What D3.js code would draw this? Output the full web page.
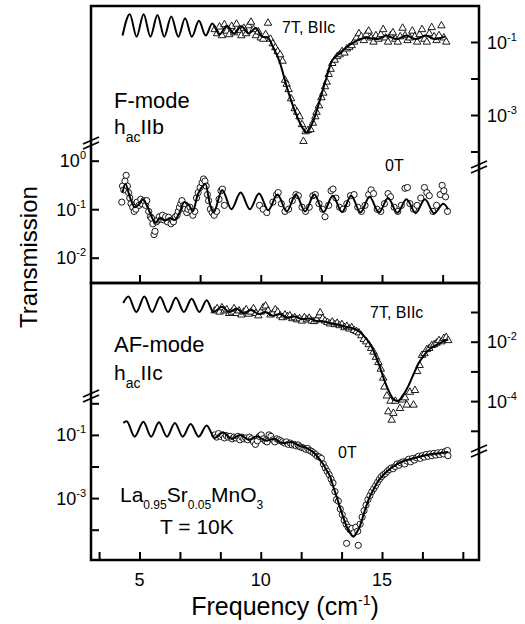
<!DOCTYPE html>
<html>
<head>
<meta charset="UTF-8">
<script src="https://cdn.jsdelivr.net/npm/d3@7"></script>
<style>
  body { margin: 0; background: #fff; }
  svg { font-family: "Liberation Sans", Arial, Helvetica, sans-serif; }
  .fit { fill: none; stroke: #000; stroke-width: 2; }
  .pt { fill: #fff; stroke: #000; stroke-width: 0.9; }
  .frame { fill: none; stroke: #000; stroke-width: 2.5; }
  .tick line { stroke: #000; stroke-width: 2; }
</style>
</head>
<body>
<div id="chart"></div>
<script>
// F-mode (h_ac || b), 7 T : measured points and fit
const fMode7T = [[8.1,0.22],[8.2,0.17],[8.3,0.26],[8.4,0.15],[8.5,0.3],[8.6,0.2],[8.7,0.16],[8.8,0.27],[8.9,0.18],[9.0,0.31],[9.1,0.21],[9.2,0.15],[9.3,0.24],[9.4,0.17],[9.5,0.28],[9.6,0.35],[9.7,0.22],[9.8,0.15],[9.9,0.19],[10.0,0.13],[10.1,0.12],[10.2,0.16],[10.3,0.33],[10.4,0.12],[10.5,0.09],[10.6,0.07],[10.7,0.055],[10.8,0.045],[10.9,0.03],[11.0,0.009],[11.07,0.007],[11.15,0.005],[11.25,0.0028],[11.4,0.0015],[11.5,0.0012],[11.6,9e-4],[11.7,5.5e-4],[11.76,1.9e-4],[11.85,3.5e-4],[11.95,3.8e-4],[12.05,4e-4],[12.15,6e-4],[12.25,9e-4],[12.3,1.2e-3],[12.4,1.8e-3],[12.5,3e-3],[12.58,4e-3],[12.65,6e-3],[12.72,8e-3],[12.8,0.013],[12.88,0.018],[12.95,0.026],[13.05,0.032],[13.15,0.04],[13.25,0.045],[13.35,0.055],[13.45,0.05],[13.55,0.065],[13.65,0.072],[13.75,0.08],[13.85,0.1],[13.95,0.13],[14.05,0.17],[14.15,0.14],[14.25,0.11],[14.35,0.16],[14.45,0.2],[14.55,0.13],[14.65,0.1],[14.75,0.15],[14.85,0.12],[14.95,0.16],[15.05,0.22],[15.15,0.13],[15.25,0.1],[15.35,0.15],[15.45,0.18],[15.55,0.12],[15.65,0.1],[15.75,0.14],[15.85,0.24],[15.95,0.15],[16.05,0.11],[16.15,0.13],[16.25,0.2],[16.35,0.14],[16.45,0.1],[16.55,0.16],[16.65,0.22],[16.75,0.12],[16.85,0.1],[16.95,0.17],[17.05,0.25],[17.15,0.14],[17.25,0.11],[17.35,0.15],[17.45,0.28],[17.55,0.13],[17.65,0.1]];
const fMode7TFit = [[4.3,0.15],[4.6,0.58],[4.88,0.14],[5.17,0.58],[5.45,0.14],[5.74,0.55],[6.02,0.14],[6.31,0.5],[6.6,0.14],[6.88,0.45],[7.16,0.14],[7.45,0.38],[7.73,0.15],[8.0,0.32],[8.3,0.16],[8.6,0.28],[8.9,0.17],[9.2,0.27],[9.5,0.17],[9.8,0.24],[10.05,0.14],[10.3,0.13],[10.5,0.075],[10.8,0.026],[11.07,0.006],[11.34,0.0017],[11.62,6e-4],[11.88,3.3e-4],[12.17,7e-4],[12.44,2.6e-3],[12.72,0.011],[12.92,0.029],[13.27,0.05],[13.8,0.094],[14.37,0.13],[14.8,0.12],[15.2,0.15],[15.6,0.12],[16.0,0.15],[16.4,0.12],[16.8,0.15],[17.2,0.12],[17.6,0.14]];

// F-mode, 0 T
const fMode0T = [[4.27,0.14],[4.3,0.3],[4.35,0.25],[4.4,0.38],[4.45,0.5],[4.5,0.3],[4.55,0.22],[4.6,0.17],[4.65,0.13],[4.72,0.11],[4.78,0.09],[4.85,0.1],[4.9,0.14],[4.98,0.12],[5.05,0.16],[5.1,0.13],[5.18,0.15],[5.25,0.12],[5.3,0.15],[5.38,0.09],[5.45,0.07],[5.5,0.065],[5.55,0.05],[5.6,0.03],[5.64,0.035],[5.7,0.055],[5.75,0.06],[5.82,0.07],[5.9,0.062],[5.95,0.075],[6.0,0.06],[6.08,0.07],[6.15,0.055],[6.2,0.068],[6.3,0.05],[6.35,0.06],[6.4,0.055],[6.48,0.07],[6.55,0.075],[6.6,0.09],[6.65,0.11],[6.7,0.13],[6.75,0.15],[6.82,0.12],[6.88,0.1],[6.95,0.085],[7.0,0.1],[7.08,0.11],[7.15,0.09],[7.2,0.075],[7.28,0.09],[7.35,0.17],[7.42,0.22],[7.5,0.28],[7.58,0.35],[7.64,0.42],[7.7,0.38],[7.75,0.3],[7.8,0.2],[7.85,0.15],[7.92,0.1],[8.0,0.085],[8.08,0.075],[8.18,0.09],[8.28,0.16],[8.36,0.24],[8.42,0.26],[8.5,0.12],
  [9.95,0.12],[10.1,0.1],[10.25,0.085],[10.5,0.14],[10.65,0.2],[10.72,0.22],[10.85,0.13],[11.0,0.09],[11.15,0.1],[11.3,0.15],[11.45,0.2],[11.55,0.19],[11.7,0.11],[11.85,0.09],[12.0,0.11],[12.15,0.19],[12.25,0.2],[12.4,0.13],[12.55,0.1],[12.65,0.07],[12.8,0.12],[12.9,0.24],[12.98,0.26],[13.1,0.17],[13.25,0.11],[13.4,0.1],[13.55,0.13],[13.7,0.19],[13.85,0.2],[14.0,0.11],[14.15,0.09],[14.3,0.12],[14.45,0.2],[14.55,0.25],[14.65,0.21],[14.8,0.1],[14.95,0.09],[15.1,0.13],[15.25,0.21],[15.35,0.18],[15.5,0.11],[15.65,0.09],[15.8,0.12],[15.95,0.27],[16.05,0.28],[16.15,0.13],[16.3,0.1],[16.45,0.12],[16.6,0.17],[16.75,0.28],[16.85,0.22],[16.95,0.19],[17.1,0.09],[17.25,0.12],[17.4,0.2],[17.48,0.31],[17.55,0.24],[17.62,0.18],[17.7,0.09]];
const fMode0TFit = [[4.3,0.22],[4.42,0.33],[4.6,0.18],[4.8,0.11],[5.0,0.13],[5.15,0.16],[5.3,0.12],[5.5,0.07],[5.65,0.052],[5.85,0.065],[6.05,0.058],[6.25,0.065],[6.45,0.06],[6.65,0.085],[6.85,0.14],[7.05,0.12],[7.2,0.09],[7.4,0.2],[7.6,0.3],[7.72,0.33],[7.9,0.13],[8.05,0.085],[8.41,0.25],[8.79,0.1],[9.17,0.22],[9.55,0.1],[9.93,0.21],[10.31,0.095],[10.69,0.2],[11.07,0.09],[11.45,0.2],[11.83,0.09],[12.21,0.2],[12.59,0.088],[12.97,0.19],[13.35,0.088],[13.73,0.19],[14.11,0.086],[14.49,0.18],[14.87,0.085],[15.25,0.17],[15.63,0.084],[16.01,0.16],[16.39,0.083],[16.77,0.16],[17.15,0.082],[17.53,0.13],[17.73,0.1]];

// AF-mode (h_ac || c), 7 T
const afMode7T = [[8.1,0.11],[8.2,0.13],[8.3,0.1],[8.4,0.14],[8.5,0.11],[8.6,0.12],[8.7,0.09],[8.8,0.1],[8.9,0.13],[9.0,0.09],[9.1,0.11],[9.2,0.08],[9.3,0.1],[9.4,0.12],[9.5,0.085],[9.6,0.1],[9.7,0.13],[9.8,0.09],[9.9,0.075],[10.0,0.1],[10.1,0.14],[10.2,0.16],[10.3,0.11],[10.4,0.08],[10.5,0.09],[10.6,0.12],[10.7,0.1],[10.8,0.075],[10.9,0.065],[11.0,0.08],[11.1,0.07],[11.2,0.075],[11.3,0.06],[11.4,0.065],[11.5,0.055],[11.6,0.06],[11.7,0.05],[11.8,0.065],[11.9,0.055],[12.0,0.062],[12.1,0.05],[12.2,0.048],[12.3,0.055],[12.4,0.075],[12.45,0.095],[12.55,0.06],[12.65,0.05],[12.75,0.045],[12.85,0.04],[12.95,0.046],[13.05,0.038],[13.15,0.042],[13.25,0.035],[13.35,0.038],[13.45,0.03],[13.55,0.033],[13.65,0.027],[13.75,0.03],[13.85,0.024],[13.95,0.022],[14.05,0.02],[14.15,0.016],[14.25,0.012],[14.35,0.01],[14.45,0.008],[14.55,0.006],[14.65,0.0045],[14.75,0.003],[14.85,0.002],[14.95,0.0012],[15.05,6e-4],[15.1,3e-4],[15.2,1.5e-4],[15.26,4.4e-5],[15.35,1e-4],[15.4,2.3e-5],[15.47,3.9e-5],[15.55,1e-4],[15.74,5.7e-5],[15.85,1.1e-4],[15.95,1.3e-4],[16.02,7.4e-5],[16.15,2e-4],[16.3,7.4e-5],[16.36,2.3e-4],[16.45,1e-3],[16.55,1.6e-3],[16.65,3.5e-3],[16.75,4e-3],[16.85,5.5e-3],[16.95,6e-3],[17.05,7.5e-3],[17.15,8e-3],[17.25,9e-3],[17.35,0.011],[17.45,0.01],[17.55,0.013],[17.65,0.014],[17.73,0.011]];
const afMode7TFit = [[4.33,0.2],[4.54,0.33],[4.87,0.1],[5.2,0.33],[5.52,0.1],[5.85,0.32],[6.18,0.1],[6.5,0.3],[6.83,0.1],[7.15,0.28],[7.47,0.1],[7.77,0.25],[8.05,0.1],[8.4,0.15],[8.7,0.1],[9.0,0.13],[9.3,0.09],[9.6,0.12],[9.9,0.085],[10.2,0.1],[10.5,0.075],[10.8,0.085],[11.1,0.065],[11.4,0.07],[11.7,0.058],[12.0,0.06],[12.3,0.05],[12.6,0.048],[12.9,0.042],[13.2,0.038],[13.5,0.032],[13.8,0.028],[14.1,0.021],[14.3,0.014],[14.5,0.0085],[14.7,0.004],[14.9,0.0015],[15.1,5e-4],[15.3,2e-4],[15.5,1.1e-4],[15.65,1e-4],[15.85,1.5e-4],[16.05,2.8e-4],[16.3,8e-4],[16.5,1.8e-3],[16.7,3.2e-3],[16.9,5e-3],[17.15,7e-3],[17.45,9.5e-3],[17.73,0.012]];

// AF-mode, 0 T
const afMode0T = [[8.1,0.1],[8.18,0.085],[8.26,0.11],[8.34,0.09],[8.42,0.1],[8.5,0.08],[8.58,0.095],[8.66,0.085],[8.74,0.09],[8.82,0.075],[8.9,0.085],[8.98,0.08],[9.06,0.09],[9.14,0.07],[9.22,0.085],[9.3,0.075],[9.38,0.08],[9.46,0.07],[9.54,0.085],[9.62,0.075],[9.7,0.06],[9.78,0.05],[9.86,0.065],[9.94,0.09],[10.02,0.1],[10.1,0.075],[10.18,0.065],[10.26,0.06],[10.34,0.1],[10.42,0.09],[10.5,0.07],[10.58,0.06],[10.66,0.075],[10.74,0.07],[10.82,0.065],[10.9,0.06],[10.98,0.055],[11.06,0.06],[11.14,0.05],[11.22,0.055],[11.3,0.048],[11.38,0.05],[11.46,0.045],[11.54,0.048],[11.62,0.042],[11.7,0.04],[11.78,0.038],[11.86,0.035],[11.94,0.037],[12.02,0.032],[12.1,0.03],[12.18,0.027],[12.26,0.024],[12.34,0.021],[12.42,0.02],[12.5,0.018],[12.58,0.012],[12.66,0.009],[12.74,0.007],[12.82,0.0055],[12.9,0.004],[12.98,0.003],[13.06,0.0016],[13.12,9e-4],[13.2,8e-4],[13.28,4.5e-4],[13.36,3e-4],[13.44,2e-4],[13.52,1.5e-4],[13.54,3.7e-5],[13.6,1.2e-4],[13.68,1e-4],[13.76,1.1e-4],[13.84,8e-5],[13.92,1.2e-4],[14.0,9e-5],[14.02,3.2e-5],[14.1,1.5e-4],[14.18,2.5e-4],[14.26,4e-4],[14.34,6e-4],[14.42,9e-4],[14.5,1.2e-3],[14.58,1.6e-3],[14.66,2e-3],[14.74,2.5e-3],[14.82,3.2e-3],[14.9,4e-3],[14.98,4.8e-3],[15.06,5.5e-3],[15.14,6e-3],[15.22,7e-3],[15.3,8e-3],[15.38,9e-3],[15.46,0.0085],[15.54,0.01],[15.62,0.012],[15.7,0.011],[15.78,0.013],[15.86,0.014],[15.94,0.012],[16.02,0.015],[16.1,0.017],[16.18,0.014],[16.26,0.018],[16.34,0.016],[16.42,0.019],[16.5,0.021],[16.58,0.018],[16.66,0.022],[16.74,0.02],[16.82,0.024],[16.9,0.021],[16.98,0.025],[17.06,0.022],[17.14,0.026],[17.22,0.023],[17.3,0.027],[17.38,0.024],[17.46,0.028],[17.54,0.025],[17.62,0.03],[17.7,0.032],[17.72,0.022]];
const afMode0TFit = [[4.33,0.24],[4.47,0.27],[4.8,0.088],[5.16,0.26],[5.48,0.088],[5.8,0.25],[6.13,0.088],[6.46,0.24],[6.78,0.088],[7.11,0.22],[7.44,0.088],[7.77,0.2],[8.1,0.08],[8.45,0.12],[8.8,0.075],[9.15,0.1],[9.5,0.07],[9.85,0.09],[10.2,0.065],[10.55,0.075],[10.9,0.055],[11.25,0.06],[11.6,0.045],[11.9,0.038],[12.17,0.028],[12.4,0.018],[12.57,0.012],[12.72,0.0075],[12.86,0.0048],[13.0,0.0022],[13.13,0.0011],[13.27,5e-4],[13.4,2.5e-4],[13.55,1.2e-4],[13.7,7.5e-5],[13.82,6e-5],[13.95,8e-5],[14.09,1.3e-4],[14.2,2.4e-4],[14.3,4.2e-4],[14.47,1e-3],[14.64,1.8e-3],[14.85,3.5e-3],[15.05,5.4e-3],[15.25,7.5e-3],[15.47,0.01],[15.8,0.014],[16.15,0.017],[16.5,0.02],[16.84,0.023],[17.3,0.026],[17.73,0.029]];

// ticks
const xLabelTicks = [5, 10, 15];
const xTicksTop = [5, 7.5, 10, 12.5, 15, 17.5];
const xTicksBottom = [10/3, 5, 20/3, 25/3, 10, 35/3, 40/3, 15, 50/3, 55/3];
const yTicksTop7T = [1e-1, 1e-2, 1e-3, 1e-4];
const yLabelsTop7T = [[1e-1, "-1"], [1e-3, "-3"]];
const yTicksTop0T = [1, 1e-1, 1e-2];
const yLabelsTop0T = [[1, "0"], [1e-1, "-1"], [1e-2, "-2"]];
const yTicksBot7T = [1e-1, 1e-2, 1e-3, 1e-4, 1e-5];
const yLabelsBot7T = [[1e-2, "-2"], [1e-4, "-4"]];
const yTicksBot0T = [1, 1e-1, 1e-2, 1e-3, 1e-4];
const yLabelsBot0T = [[1e-1, "-1"], [1e-3, "-3"]];

const width = 525, height = 624;
const svg = d3.select("#chart").append("svg")
    .attr("width", width)
    .attr("height", height);

const xL = 91, xR = 479, yT = 6, yM = 283, yB = 560;

const x = d3.scaleLinear().domain([3, 19]).range([xL, xR]);
const yTop7T = d3.scaleLog().domain([1e-1, 1e-4]).range([42, 151.5]);
const yTop0T = d3.scaleLog().domain([1, 1e-2]).range([160.7, 257.7]);
const yBot7T = d3.scaleLog().domain([1e-1, 1e-5]).range([312, 430.8]);
const yBot0T = d3.scaleLog().domain([1, 1e-4]).range([403.3, 529.7]);

// ticks (all pointing inward)
function ticks(axis, tx, ty) {
    const g = svg.append("g").attr("transform", `translate(${tx},${ty})`).call(axis);
    g.select(".domain").remove();
    return g;
}
ticks(d3.axisTop(x).tickValues(xTicksTop).tickSize(8).tickFormat(""), 0, yM);
ticks(d3.axisTop(x).tickValues(xTicksBottom).tickSize(8).tickFormat(""), 0, yB);
ticks(d3.axisRight(yTop0T).tickValues(yTicksTop0T).tickSize(8).tickFormat(""), xL, 0);
ticks(d3.axisLeft(yTop7T).tickValues(yTicksTop7T).tickSize(8).tickFormat(""), xR, 0);
ticks(d3.axisRight(yBot0T).tickValues(yTicksBot0T).tickSize(8).tickFormat(""), xL, 0);
ticks(d3.axisLeft(yBot7T).tickValues(yTicksBot7T).tickSize(8).tickFormat(""), xR, 0);

// frames
svg.append("rect").attr("class", "frame")
    .attr("x", xL).attr("y", yT).attr("width", xR - xL).attr("height", yM - yT);
svg.append("rect").attr("class", "frame")
    .attr("x", xL).attr("y", yM).attr("width", xR - xL).attr("height", yB - yM);

// axis breaks
function axisBreak(cx, cy) {
    [-2.5, 2.5].forEach(o => {
        svg.append("line")
            .attr("x1", cx - 8).attr("y1", cy + o + 3.5)
            .attr("x2", cx + 8).attr("y2", cy + o - 3.5)
            .attr("stroke", "#000").attr("stroke-width", 1.8);
    });
}
axisBreak(xL, 143);
axisBreak(xL, 396);
axisBreak(xR, 167);
axisBreak(xR, 451);

// power-of-ten labels
function powLabel(px, py, exp, anchor) {
    const t = svg.append("text")
        .attr("x", px).attr("y", py + 6.5)
        .attr("text-anchor", anchor)
        .attr("font-size", 18);
    t.append("tspan").text("10");
    t.append("tspan").attr("dy", -8).attr("font-size", 11).text(exp);
}
yLabelsTop0T.forEach(d => powLabel(86, yTop0T(d[0]), d[1], "end"));
yLabelsBot0T.forEach(d => powLabel(86, yBot0T(d[0]), d[1], "end"));
yLabelsTop7T.forEach(d => powLabel(487, yTop7T(d[0]), d[1], "start"));
yLabelsBot7T.forEach(d => powLabel(487, yBot7T(d[0]), d[1], "start"));

svg.selectAll(".xlab").data(xLabelTicks).join("text")
    .attr("class", "xlab")
    .attr("x", d => x(d)).attr("y", 586)
    .attr("text-anchor", "middle")
    .attr("font-size", 18)
    .text(d => d);

// series
const triangle = d3.symbol().type(d3.symbolTriangle).size(24);
function drawSeries(data, fit, y, marker) {
    const g = svg.append("g");
    if (marker === "tri") {
        g.selectAll("path").data(data).join("path")
            .attr("class", "pt")
            .attr("d", triangle)
            .attr("transform", d => `translate(${x(d[0])},${y(d[1])})`);
    } else {
        g.selectAll("circle").data(data).join("circle")
            .attr("class", "pt")
            .attr("r", 3.1)
            .attr("cx", d => x(d[0]))
            .attr("cy", d => y(d[1]));
    }
    const line = d3.line()
        .x(d => x(d[0]))
        .y(d => y(d[1]))
        .curve(d3.curveMonotoneX);
    g.append("path").attr("class", "fit").attr("d", line(fit));
}
drawSeries(fMode7T, fMode7TFit, yTop7T, "tri");
drawSeries(fMode0T, fMode0TFit, yTop0T, "circ");
drawSeries(afMode7T, afMode7TFit, yBot7T, "tri");
drawSeries(afMode0T, afMode0TFit, yBot0T, "circ");

// annotations
function note(px, py, size, parts) {
    const t = svg.append("text").attr("x", px).attr("y", py).attr("font-size", size);
    parts.forEach(p => {
        const s = t.append("tspan").text(p[0]);
        if (p[1]) s.attr("dy", p[1]);
        if (p[2]) s.attr("font-size", p[2]);
    });
}
note(282, 33, 16, [["7T, BIIc"]]);
note(385, 171, 16, [["0T"]]);
note(114, 108, 22, [["F-mode"]]);
note(114, 134, 21, [["h"], ["ac", 8, 14], ["IIb", -8]]);
note(370, 318, 16, [["7T, BIIc"]]);
note(338, 458, 16, [["0T"]]);
note(114, 352, 22, [["AF-mode"]]);
note(114, 380, 21, [["h"], ["ac", 8, 14], ["IIc", -8]]);
note(120, 502, 21, [["La"], ["0.95", 7, 12], ["Sr", -7], ["0.05", 7, 12], ["MnO", -7], ["3", 7, 12]]);
note(160, 534, 21, [["T = 10K"]]);

// axis titles
const xt = svg.append("text")
    .attr("x", 285).attr("y", 615)
    .attr("text-anchor", "middle")
    .attr("font-size", 25);
xt.append("tspan").text("Frequency (cm");
xt.append("tspan").attr("dy", -10).attr("font-size", 14).text("-1");
xt.append("tspan").attr("dy", 10).text(")");

svg.append("text")
    .attr("transform", "translate(37,257) rotate(-90)")
    .attr("text-anchor", "middle")
    .attr("font-size", 24)
    .text("Transmission");
</script>
</body>
</html>
